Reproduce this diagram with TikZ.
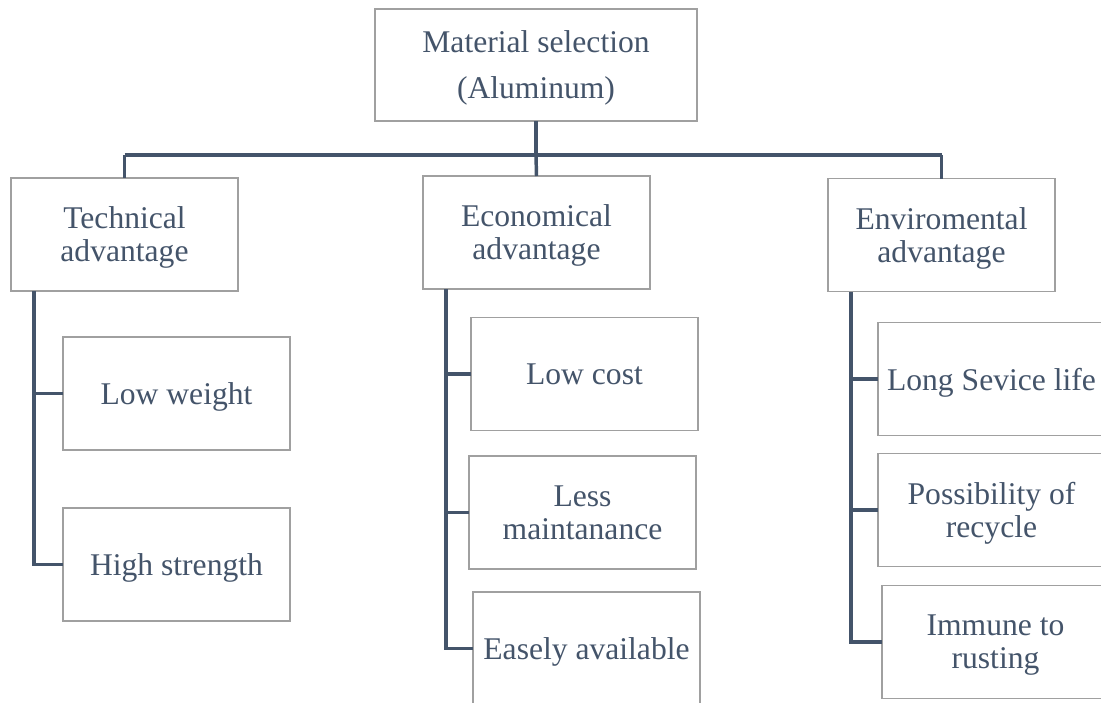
\documentclass[tikz,border=0pt]{standalone}
\usepackage{fontspec}
\setmainfont{Liberation Serif}
\definecolor{txt}{HTML}{44546A}
\definecolor{boxline}{HTML}{A0A0A0}
\begin{document}
\begin{tikzpicture}[x=0.75pt,y=-0.75pt,
  box/.style={draw=boxline,line width=1.1pt,fill=white,inner sep=0pt,outer sep=0pt,
    minimum width=170.25pt,minimum height=84.75pt,align=center,text=txt,text depth=0pt,
    font=\fontsize{23.7}{24.75}\selectfont},
  conn/.style={draw=txt,line width=2.6pt}]
\useasboundingbox (0,0) rectangle (1101,703);
\clip (0,0) rectangle (1101,703);
% top
\node[box,minimum width=241.5pt,minimum height=84pt,font=\fontsize{23.7}{34.5}\selectfont] (top) at (536,65) {Material selection\\(Aluminum)};
% level 1
\node[box] (tech) at (124.5,234.5) {Technical\\advantage};
\node[box] (econ) at (536.5,232.5) {Economical\\advantage};
\node[box] (env) at (941.5,235) {Enviromental\\advantage};
% level 2
\node[box] (lw) at (176.5,393.5) {Low weight};
\node[box] (hs) at (176.5,564.5) {High strength};
\node[box] (lc) at (584.5,374) {Low cost};
\node[box] (lm) at (582.5,512.5) {Less\\maintanance};
\node[box] (ea) at (586.5,648.5) {Easely available};
\node[box] (ls) at (991.5,379) {Long Sevice life};
\node[box] (pr) at (991.5,510) {Possibility of\\recycle};
\node[box] (ir) at (995.5,642) {Immune to\\rusting};
% bus
\coordinate (busL) at (124.5,155);
\coordinate (busR) at (941.5,155);
\coordinate (busM) at (536,155);
\draw[conn] (top.south) -- (busM);
\draw[conn] (busL) -- (busR);
\draw[conn] (busL) -- (tech.north);
\draw[conn] (busM) -- (econ.north);
\draw[conn] (busR) -- (env.north);
% branches
\coordinate (tv) at (34,291);
\coordinate (ev) at (446,289);
\coordinate (nv) at (851,292);
\draw[conn] (tv) |- (hs.west);
\draw[conn] (lw.west) -- (lw.west -| tv);
\draw[conn] (ev) |- (ea.west);
\draw[conn] (lc.west) -- (lc.west -| ev);
\draw[conn] (lm.west) -- (lm.west -| ev);
\draw[conn] (nv) |- (ir.west);
\draw[conn] (ls.west) -- (ls.west -| nv);
\draw[conn] (pr.west) -- (pr.west -| nv);
\end{tikzpicture}
\end{document}
